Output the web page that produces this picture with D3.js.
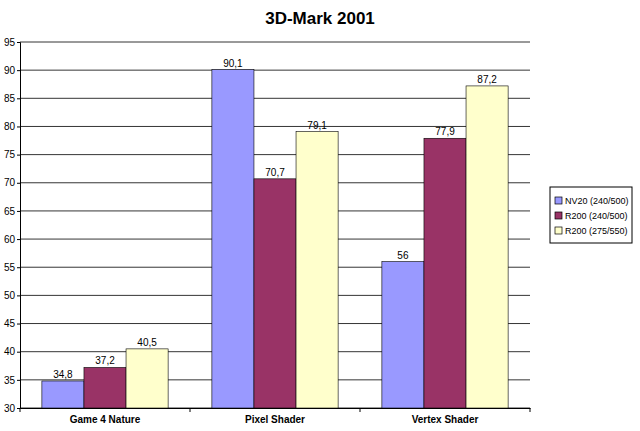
<!DOCTYPE html>
<html><head><meta charset="utf-8">
<script src="https://cdn.jsdelivr.net/npm/d3@7"></script>
<style>body{margin:0;background:#fff}text{font-family:"Liberation Sans Narrow","Liberation Sans",Arial,sans-serif}</style>
</head><body>
<svg width="640" height="431"></svg>
<script>
const categories = ["Game 4 Nature", "Pixel Shader", "Vertex Shader"];
const series = ["NV20 (240/500)", "R200 (240/500)", "R200 (275/550)"];
const values = [
  [34.8, 90.1, 56],
  [37.2, 70.7, 77.9],
  [40.5, 79.1, 87.2]
];
const colors = ["#9999ff", "#993366", "#ffffcc"];
const ticks = d3.range(30, 96, 5);

const svg = d3.select("svg");
const mLeft = 20, mRight = 530, mTop = 42, mBottom = 408;

svg.append("text").attr("x", 320).attr("y", 24).attr("text-anchor", "middle")
  .attr("font-size", 17).attr("font-weight", "bold").text("3D-Mark 2001");

const y = d3.scaleLinear().domain([30, 95]).range([mBottom, mTop]);
const x0 = d3.scaleBand().domain(categories).range([mLeft, mRight]);
const x1 = d3.scaleBand().domain(series).range([0, x0.bandwidth()]).paddingOuter(0.52);

// grid
svg.append("g").selectAll("line").data(ticks).join("line")
  .attr("x1", mLeft).attr("x2", mRight)
  .attr("y1", d => y(d)).attr("y2", d => y(d))
  .attr("stroke", "#000").attr("stroke-width", 0.8);

const yAxis = svg.append("g").attr("transform", `translate(${mLeft},0)`)
  .call(d3.axisLeft(y).tickValues(ticks).tickSize(3).tickPadding(2));
yAxis.selectAll("text").attr("font-size", 10).attr("font-family", "Liberation Sans Narrow, Liberation Sans, Arial");

const xAxis = svg.append("g").attr("transform", `translate(0,${mBottom})`)
  .call(d3.axisBottom(x0).tickSize(0).tickPadding(8));
xAxis.selectAll("text").attr("font-size", 10).attr("font-weight", "bold").attr("font-family", "Liberation Sans Narrow, Liberation Sans, Arial");
svg.append("g").selectAll("line").data(d3.range(4)).join("line")
  .attr("x1", i => mLeft + i * x0.step()).attr("x2", i => mLeft + i * x0.step())
  .attr("y1", mBottom).attr("y2", mBottom + 4).attr("stroke", "#000");

series.forEach((s, si) => {
  const g = svg.append("g");
  g.selectAll("rect").data(categories).join("rect")
    .attr("x", (c) => x0(c) + x1(s)).attr("width", x1.bandwidth())
    .attr("y", (c, ci) => y(values[si][ci]))
    .attr("height", (c, ci) => mBottom - y(values[si][ci]))
    .attr("fill", colors[si]).attr("stroke", "#000").attr("stroke-width", 0.6);
  g.selectAll("text").data(categories).join("text")
    .attr("x", c => x0(c) + x1(s) + x1.bandwidth() / 2)
    .attr("y", (c, ci) => y(values[si][ci]) - 3)
    .attr("text-anchor", "middle").attr("font-size", 10)
    .text((c, ci) => String(values[si][ci]).replace(".", ","));
});

// legend
const lg = svg.append("g").attr("transform", "translate(550,187)");
lg.append("rect").attr("width", 82).attr("height", 56).attr("fill", "#fff").attr("stroke", "#000");
series.forEach((s, i) => {
  lg.append("rect").attr("x", 5).attr("y", 10 + i * 15).attr("width", 7).attr("height", 7)
    .attr("fill", colors[i]).attr("stroke", "#000").attr("stroke-width", 0.7);
  lg.append("text").attr("x", 15).attr("y", 17 + i * 15).attr("font-size", 9).text(s);
});
</script>
</body></html>
